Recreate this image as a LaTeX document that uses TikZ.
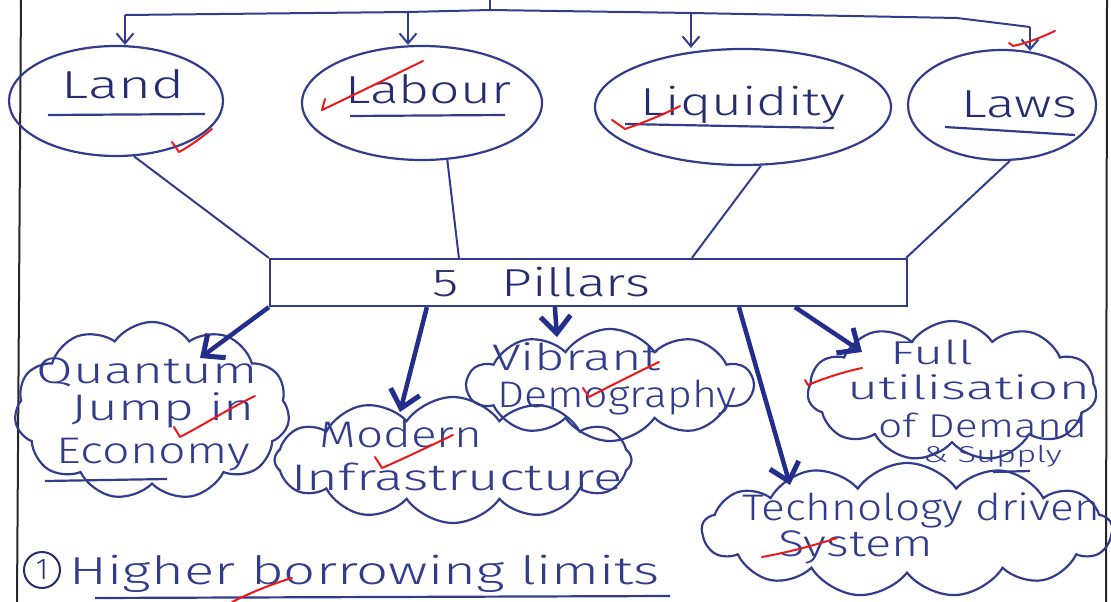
\documentclass[tikz,border=0pt]{standalone}
\usepackage{fontspec}
\setmainfont{Fira Sans Light}
\usepackage{graphicx}
\usetikzlibrary{shapes.geometric,shapes.symbols,arrows.meta}
\definecolor{pen}{RGB}{50,60,140}
\definecolor{ink}{RGB}{38,44,112}
\definecolor{redpen}{RGB}{235,25,25}
\newcommand\hw[2]{\resizebox{#1pt}{\height}{#2}}
\begin{document}
\begin{tikzpicture}[x=1pt,y=-1pt,
  oval/.style={ellipse,draw=pen,line width=2.2pt,inner sep=0pt},
  puff/.style={cloud,draw=pen,line width=2.2pt,cloud puffs=#1,cloud puff arc=110,cloud ignores aspect,inner sep=0pt},
  lbl/.style={text=ink,anchor=base,inner sep=0pt,font=\fontsize{39}{44}\selectfont},
  clbl/.style={text=pen,anchor=base,inner sep=0pt,font=\fontsize{37}{42}\selectfont},
  slbl/.style={clbl,font=\fontsize{33}{38}\selectfont},
  link/.style={draw=pen,line width=2pt},
  drop/.style={draw=pen,line width=2pt,-{Straight Barb[length=10pt,width=17pt,line width=2pt]}},
  bigarrow/.style={draw={rgb,255:red,35;green,45;blue,140},line width=4.5pt,-{Straight Barb[length=17pt,width=30pt,line width=5pt]}},
  tick/.style={draw=redpen,line width=2pt,line cap=round,line join=round},
  uline/.style={draw=pen,line width=2.2pt},
]
\useasboundingbox (0,0) rectangle (1111,602);
% margins
\draw[black!85,line width=2pt] (21,0) -- (17,602);
\draw[black!85,line width=2pt] (1107,0) -- (1106,602);

% top four ellipses
\node[oval,minimum width=214pt,minimum height=110pt] (land) at (116,101) {};
\node[oval,minimum width=240pt,minimum height=114pt] (labour) at (422,103) {};
\node[oval,minimum width=296pt,minimum height=116pt] (liq) at (743,107) {};
\node[oval,minimum width=188pt,minimum height=110pt] (laws) at (1002,105) {};

\node[lbl] (tland) at (123,99) {\hw{123}{Land}};
\node[lbl] (tlabour) at (428,103) {\hw{166}{Labour}};
\node[lbl] (tliq) at (743,115) {\hw{205}{Liquidity}};
\node[lbl] (tlaws) at (1019,117) {\hw{116}{Laws}};
\draw[uline] (48,115) -- (205,114);
\draw[uline] (350,116) -- (505,115);
\draw[uline] (625,124) -- (834,128);
\draw[uline] (945,127) -- (1075,135);

% top bracket
\coordinate (stem) at (490,0);
\coordinate (b1) at (125,15);
\coordinate (b2) at (408,12);
\coordinate (b3) at (691,13);
\coordinate (b4) at (1030,27);
\draw[link] (stem) -- (490,10);
\draw[link] (b1) -- (b2) -- (490,10) -- (b3) -- (957,18) -- (b4);
\draw[drop] (b1) -- (b1 |- land.north);
\draw[drop] (b2) -- (b2 |- labour.north);
\draw[drop] (b3) -- (b3 |- liq.north);
\draw[drop] (b4) -- ([yshift=-2pt]b4 |- laws.north);

% pillars box
\node[draw=pen,line width=2.2pt,minimum width=637pt,minimum height=47pt,inner sep=0pt] (pillars) at (588.5,282.5) {};
\node[lbl] (tpillars) at (541,296) {\hw{218}{5\hspace{0.8em}Pillars}};

\draw[link] (land.288) -- (pillars.north west);
\draw[link] (labour.-66) -- ([xshift=190pt]pillars.north west);
\draw[link] (liq.-73) -- ([xshift=423pt]pillars.north west);
\draw[link] (laws.-82) -- ([xshift=-2pt]pillars.north east);

% clouds
\node[puff=11,minimum width=275pt,minimum height=178pt] (qc) at (152,411) {};
\node[puff=12,minimum width=357pt,minimum height=126pt] (mc) at (453,460) {};
\node[puff=10,minimum width=285pt,minimum height=112pt] (vc) at (610,385) {};
\node[puff=11,minimum width=289pt,minimum height=140pt] (fc) at (952,391) {};
\node[puff=13,minimum width=410pt,minimum height=134pt] (tc) at (907,530) {};

\node[clbl] at (147.5,383) {\hw{221}{Quantum}};
\node[clbl] at (163.5,420) {\hw{183}{Jump in}};
\node[clbl] at (153.5,463) {\hw{193}{Economy}};
\draw[uline] (45,481) -- (167,479);

\node[clbl] at (401,447) {\hw{163}{Modern}};
\node[clbl] at (457,490) {\hw{331}{Infrastructure}};

\node[clbl] at (576,370) {\hw{168}{Vibrant}};
\node[clbl] at (617,407) {\hw{240}{Demography}};

\node[slbl] at (931.5,364) {\hw{83}{Full}};
\node[slbl] at (968.5,399) {\hw{243}{utilisation}};
\node[slbl] at (982.5,437) {\hw{209}{of Demand}};
\node[clbl,font=\fontsize{23}{26}\selectfont] at (992.5,462) {\hw{139}{\& Supply}};
\draw[uline] (993,472) -- (1030,471);

\node[clbl] at (921,520) {\hw{358}{Technology driven}};
\node[clbl] at (855.5,556) {\hw{155}{System}};

% thick arrows
\draw[bigarrow] (pillars.south west) -- ([shift={(48,-53)}]qc.center);
\draw[bigarrow] ([xshift=158pt]pillars.south west) -- ([shift={(-53,-48)}]mc.center);
\draw[bigarrow] ([xshift=286pt]pillars.south west) -- ([shift={(-53,-48)}]vc.center);
\draw[bigarrow] ([xshift=470pt]pillars.south west) -- ([shift={(-117,-45)}]tc.center);
\draw[bigarrow] ([xshift=526pt]pillars.south west) -- ([shift={(-90,-39)}]fc.center);

% bottom line
\node[draw=ink,circle,line width=2pt,minimum size=36pt,inner sep=0pt,text=ink,font=\fontsize{30}{32}\selectfont] (n1) at (42,570) {1};
\node[lbl,text=pen] (tborrow) at (365,584) {\hw{590}{Higher borrowing limits}};
\draw[uline] (95,598) -- (670,596);

% red teacher marks
\draw[tick] (172,142) -- (179,152) .. controls (192,145) and (202,137) .. (212,129);
\draw[tick] (325,99) -- (322,110) .. controls (360,92) and (392,76) .. (423,61);
\draw[tick] (612,120) -- (625,129) .. controls (645,122) and (665,114) .. (680,106);
\draw[tick] (1009,43) -- (1013,46) .. controls (1028,43) and (1042,37) .. (1055,31);
\draw[tick] (174,427) -- (180,437) .. controls (205,424) and (230,408) .. (255,396);
\draw[tick] (375,457) -- (382,468) .. controls (405,458) and (430,446) .. (453,435);
\draw[tick] (583,388) -- (589,397) .. controls (612,385) and (638,372) .. (659,362);
\draw[tick] (805,380) -- (808,385) .. controls (825,378) and (843,372) .. (862,368);
\draw[tick] (762,557) .. controls (790,552) and (815,545) .. (837,538);
\draw[tick] (232,602) .. controls (252,592) and (272,584) .. (292,578);
\end{tikzpicture}
\end{document}
